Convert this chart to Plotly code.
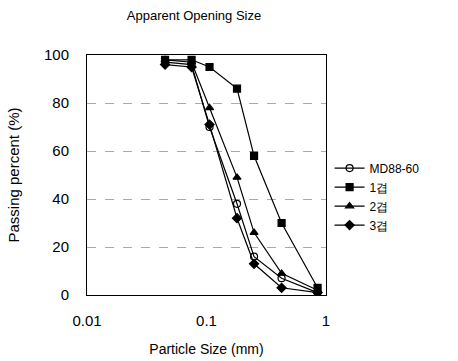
import plotly.graph_objects as go

sizes = [0.045, 0.075, 0.106, 0.18, 0.25, 0.425, 0.85]
md88_60 = [97, 96, 70, 38, 16, 7, 1]
layer1 = [98, 98, 95, 86, 58, 30, 3]
layer2 = [98, 97, 78, 49, 26, 9, 2]
layer3 = [96, 95, 71, 32, 13, 3, 1]

series = [
    ("MD88-60", md88_60, "circle-open"),
    ("1겹", layer1, "square"),
    ("2겹", layer2, "triangle-up"),
    ("3겹", layer3, "diamond"),
]

fig = go.Figure()
for name, vals, sym in series:
    fig.add_trace(go.Scatter(
        x=sizes, y=vals, name=name, mode="lines+markers",
        line=dict(color="black", width=1.2),
        marker=dict(symbol=sym, size=7, color="black",
                    line=dict(color="black", width=1.2)),
    ))

font = "Liberation Sans, Arial, sans-serif"
fig.update_layout(
    width=458, height=361,
    margin=dict(l=87, r=132, t=55, b=66),
    paper_bgcolor="white", plot_bgcolor="white",
    font=dict(family=font, color="black", size=14),
    title=dict(text="Apparent Opening Size", x=194/458, xanchor="center",
               y=1 - 15/361, yanchor="middle", font=dict(size=13)),
    legend=dict(x=1.015, xanchor="left", y=0.41, yanchor="middle",
                font=dict(size=12), itemwidth=30, tracegroupgap=0,
                bgcolor="rgba(0,0,0,0)"),
    showlegend=True,
)
fig.update_xaxes(
    type="log", range=[-2, 0], tickvals=[0.01, 0.1, 1],
    ticktext=["0.01", "0.1", "1"], showgrid=False, zeroline=False,
    showline=True, linecolor="black", linewidth=1, mirror=True,
    automargin=False,
    ticks="", ticklabelstandoff=12, tickfont=dict(size=15),
    title=dict(text="Particle Size (mm)", font=dict(size=14), standoff=16),
)
fig.update_yaxes(
    range=[0, 100], tickvals=[0, 20, 40, 60, 80, 100],
    showgrid=True, gridcolor="#aaa", griddash="dash", gridwidth=1,
    zeroline=False, showline=True, linecolor="black", linewidth=1, mirror=True,
    automargin=False,
    ticks="", ticklabelstandoff=14, tickfont=dict(size=15),
    title=dict(text="Passing percent (%)", font=dict(size=15), standoff=20),
)

fig.write_html("out.html")
